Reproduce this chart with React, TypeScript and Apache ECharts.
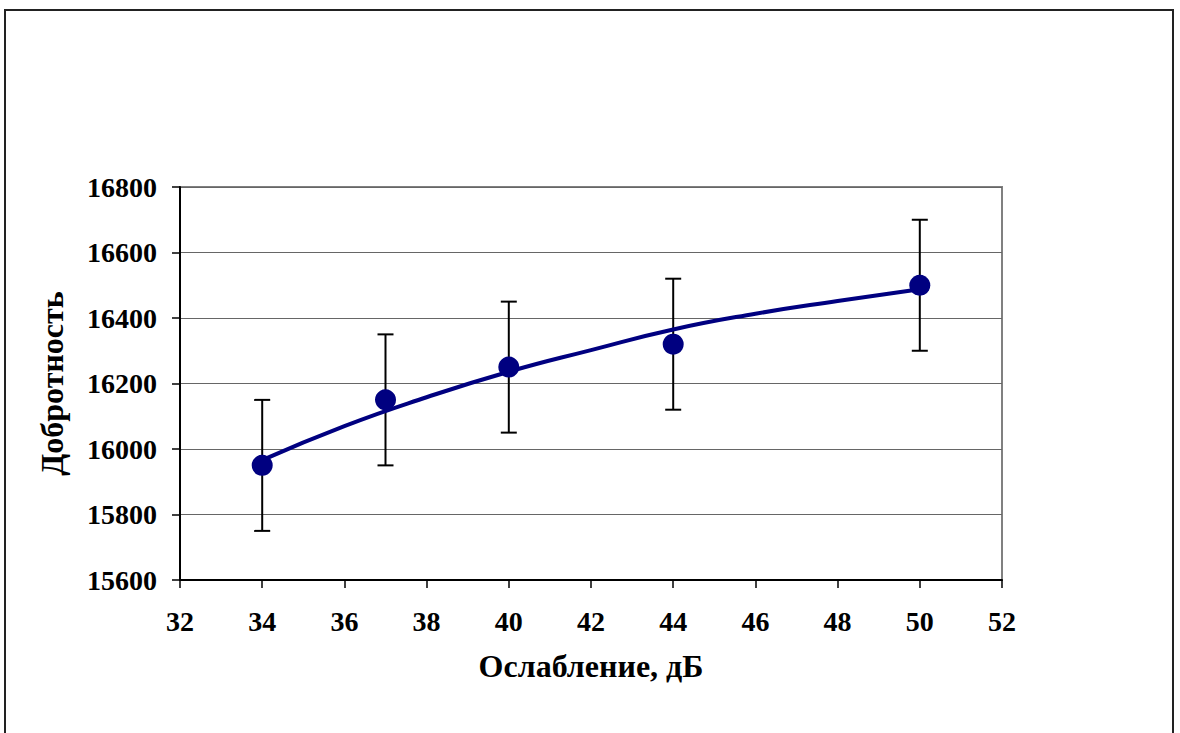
import React, { useEffect, useRef } from "react";
import * as echarts from "echarts";

const attenuationDb = [34, 37, 40, 44, 50];
const qFactor = [15950, 16150, 16250, 16320, 16500];
const qError = [200, 200, 200, 200, 200];
const trendX = [34, 36, 38, 40, 42, 44, 46, 48, 50];
const trendY = [15966, 16070, 16158, 16236, 16302, 16365, 16413, 16452, 16488];

const xTitle = "Ослабление, дБ";
const yTitle = "Добротность";

const FONT = "Liberation Serif";

export default function App() {
  const ref = useRef<HTMLDivElement>(null);

  useEffect(() => {
    if (!ref.current) return;
    const chart = echarts.init(ref.current, null, { renderer: "svg" });

    const errData = attenuationDb.map((x, i) => [x, qFactor[i] - qError[i], qFactor[i] + qError[i]]);
    const pointData = attenuationDb.map((x, i) => [x, qFactor[i]]);
    const trendData = trendX.map((x, i) => [x, trendY[i]]);

    chart.setOption({
      animation: false,
      backgroundColor: "#ffffff",
      graphic: [
        {
          type: "rect",
          shape: { x: 5, y: 10, width: 1168, height: 800 },
          style: { fill: "none", stroke: "#222", lineWidth: 2 },
          silent: true,
          z: -1,
        },
      ],
      grid: {
        left: 180,
        top: 187,
        right: 178,
        bottom: 153,
        show: true,
        borderColor: "#808080",
        borderWidth: 2,
        backgroundColor: "transparent",
      },
      xAxis: {
        type: "value",
        min: 32,
        max: 52,
        interval: 2,
        name: xTitle,
        nameLocation: "middle",
        nameGap: 70,
        nameTextStyle: { fontFamily: FONT, fontWeight: "bold", fontSize: 32, color: "#000" },
        axisLine: { show: true, onZero: false, lineStyle: { color: "#000", width: 2 } },
        axisTick: { show: true, inside: false, length: 8, lineStyle: { color: "#000", width: 1.5 } },
        axisLabel: { fontFamily: FONT, fontWeight: "bold", fontSize: 28, color: "#000", margin: 27 },
        splitLine: { show: false },
      },
      yAxis: {
        type: "value",
        min: 15600,
        max: 16800,
        interval: 200,
        name: yTitle,
        nameLocation: "middle",
        nameGap: 112,
        nameTextStyle: { fontFamily: FONT, fontWeight: "bold", fontSize: 32, color: "#000" },
        axisLine: { show: true, onZero: false, lineStyle: { color: "#000", width: 2 } },
        axisTick: { show: true, inside: false, length: 8, lineStyle: { color: "#000", width: 1.5 } },
        axisLabel: {
          fontFamily: FONT,
          fontWeight: "bold",
          fontSize: 28,
          color: "#000",
          margin: 23,
          formatter: (v: number) => String(v),
        },
        splitLine: { show: true, lineStyle: { color: "#666", width: 1 } },
      },
      series: [
        {
          type: "custom",
          name: "errors",
          data: errData,
          z: 2,
          renderItem: (params: any, api: any) => {
            const x = api.value(0);
            const lo = api.coord([x, api.value(1)]);
            const hi = api.coord([x, api.value(2)]);
            const cap = 8;
            const style = { stroke: "#000", lineWidth: 2 };
            return {
              type: "group",
              children: [
                { type: "line", shape: { x1: lo[0], y1: lo[1], x2: hi[0], y2: hi[1] }, style },
                { type: "line", shape: { x1: lo[0] - cap, y1: lo[1], x2: lo[0] + cap, y2: lo[1] }, style },
                { type: "line", shape: { x1: hi[0] - cap, y1: hi[1], x2: hi[0] + cap, y2: hi[1] }, style },
              ],
            };
          },
        },
        {
          type: "scatter",
          name: "points",
          data: pointData,
          symbol: "circle",
          symbolSize: 21,
          itemStyle: { color: "#000080", opacity: 1 },
          z: 3,
        },
        {
          type: "line",
          name: "trend",
          data: trendData,
          smooth: true,
          showSymbol: false,
          symbol: "none",
          lineStyle: { color: "#000080", width: 4 },
          z: 4,
        },
      ],
    });

    return () => chart.dispose();
  }, []);

  return (
    <div
      ref={ref}
      style={{ position: "fixed", left: 0, top: 0, width: 1180, height: 733, background: "#fff" }}
    />
  );
}
